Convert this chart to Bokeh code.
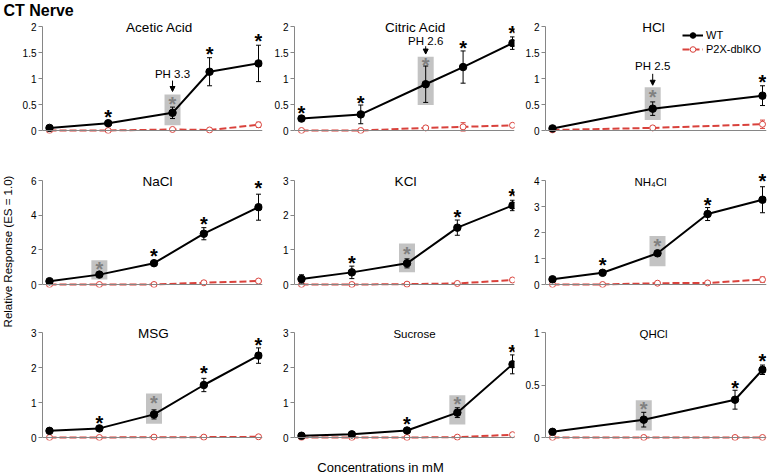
import math
from bokeh.plotting import figure
from bokeh.layouts import column, row
from bokeh.models import (FixedTicker, Label, Arrow, NormalHead, Legend, LegendItem, Range1d)
from bokeh.core.properties import value
from bokeh.embed import file_html
from bokeh.resources import INLINE

FONT = "Liberation Sans"
WT_C = "#000000"
KO_C = "#D9423C"
AX_C = "#868686"
BOX_C = "#C3C3C3"
GSTAR_C = "#808080"

# ---------------- data ----------------
acetic_conc = [1, 3, 10, 20, 50]
acetic_wt = [0.05, 0.14, 0.34, 1.13, 1.29]
acetic_wt_err = [0.02, 0.03, 0.11, 0.27, 0.35]
acetic_ko = [0.0, 0.0, 0.02, 0.01, 0.11]
acetic_ko_err = [0.01, 0.01, 0.02, 0.02, 0.05]
acetic_yticks = [0, 0.5, 1, 1.5, 2]
acetic_stars = [3, 10, 20, 50]
acetic_star_y = [0.33, 0.59, 1.54, 1.79]

citric_conc = [1, 3, 10, 20, 50]
citric_wt = [0.23, 0.31, 0.89, 1.22, 1.68]
citric_wt_err = [0.04, 0.18, 0.35, 0.31, 0.12]
citric_ko = [0.0, 0.0, 0.05, 0.07, 0.10]
citric_ko_err = [0.01, 0.01, 0.03, 0.08, 0.03]
citric_yticks = [0, 0.5, 1, 1.5, 2]
citric_stars = [1, 3, 10, 20, 50]
citric_star_y = [0.42, 0.60, 1.33, 1.67, 1.96]

hcl_conc = [1, 3, 10]
hcl_wt = [0.04, 0.42, 0.67]
hcl_wt_err = [0.02, 0.13, 0.19]
hcl_ko = [0.01, 0.05, 0.12]
hcl_ko_err = [0.01, 0.02, 0.08]
hcl_yticks = [0, 0.5, 1, 1.5, 2]
hcl_stars = [3, 10]
hcl_star_y = [0.72, 1.01]

nacl_conc = [10, 30, 100, 300, 1000]
nacl_wt = [0.19, 0.57, 1.23, 2.93, 4.46]
nacl_wt_err = [0.08, 0.10, 0.12, 0.35, 0.75]
nacl_ko = [0.0, 0.0, 0.0, 0.10, 0.20]
nacl_ko_err = [0.02, 0.02, 0.02, 0.10, 0.08]
nacl_yticks = [0, 2, 4, 6]
nacl_stars = [30, 100, 300, 1000]
nacl_star_y = [1.11, 1.88, 3.70, 5.80]

kcl_conc = [10, 30, 100, 300, 1000]
kcl_wt = [0.16, 0.35, 0.61, 1.64, 2.28]
kcl_wt_err = [0.12, 0.18, 0.13, 0.22, 0.15]
kcl_ko = [0.0, 0.0, 0.01, 0.03, 0.13]
kcl_ko_err = [0.03, 0.02, 0.02, 0.03, 0.05]
kcl_yticks = [0, 1, 2, 3]
kcl_stars = [30, 100, 300, 1000]
kcl_star_y = [0.75, 0.99, 2.06, 2.67]

nh4cl_conc = [10, 30, 100, 300, 1000]
nh4cl_wt = [0.20, 0.45, 1.20, 2.71, 3.26]
nh4cl_wt_err = [0.05, 0.09, 0.08, 0.25, 0.50]
nh4cl_ko = [0.0, 0.0, 0.05, 0.06, 0.19]
nh4cl_ko_err = [0.02, 0.02, 0.06, 0.04, 0.10]
nh4cl_yticks = [0, 1, 2, 3, 4]
nh4cl_stars = [30, 100, 300, 1000]
nh4cl_star_y = [0.89, 1.62, 3.23, 4.13]

msg_conc = [10, 30, 100, 300, 1000]
msg_wt = [0.19, 0.26, 0.66, 1.50, 2.34]
msg_wt_err = [0.03, 0.03, 0.13, 0.19, 0.22]
msg_ko = [0.0, 0.0, 0.01, 0.01, 0.02]
msg_ko_err = [0.01, 0.01, 0.02, 0.03, 0.03]
msg_yticks = [0, 1, 2, 3]
msg_stars = [30, 100, 300, 1000]
msg_star_y = [0.54, 1.09, 1.95, 2.77]

sucrose_conc = [10, 30, 100, 300, 1000]
sucrose_wt = [0.05, 0.09, 0.20, 0.71, 2.09]
sucrose_wt_err = [0.02, 0.03, 0.04, 0.14, 0.27]
sucrose_ko = [0.0, 0.0, 0.0, 0.01, 0.08]
sucrose_ko_err = [0.01, 0.01, 0.01, 0.03, 0.05]
sucrose_yticks = [0, 1, 2, 3]
sucrose_stars = [100, 300, 1000]
sucrose_star_y = [0.49, 1.06, 2.55]

qhcl_conc = [0.1, 1, 10, 20]
qhcl_wt = [0.054, 0.17, 0.36, 0.645]
qhcl_wt_err = [0.01, 0.07, 0.09, 0.045]
qhcl_ko = [0.0, 0.0, 0.0, 0.0]
qhcl_ko_err = [0.005, 0.005, 0.005, 0.005]
qhcl_yticks = [0, 0.5, 1]
qhcl_stars = [1, 10, 20]
qhcl_star_y = [0.31, 0.51, 0.77]

panel_titles = ["Acetic Acid", "Citric Acid", "HCl", "NaCl", "KCl", "NH\u2084Cl", "MSG", "Sucrose", "QHCl"]
panel_title_sizes = ["13.5px", "13.5px", "13.5px", "13.5px", "13.5px", "11.5px", "13.5px", "11.5px", "11.5px"]
panel_title_dx = [117, 121, 108, 115, 111, 105, 111, 120, 108]
# highlighted (gray box) concentration per panel and the box extent in data units
gray_marked = [10, 10, 3, 30, 100, 100, 100, 300, 1]
gray_box_lo = [0.10, 0.49, 0.20, 0.29, 0.35, 0.70, 0.39, 0.37, 0.067]
gray_box_hi = [0.69, 1.42, 0.83, 1.40, 1.18, 1.87, 1.26, 1.21, 0.355]
# pH notes: panel index, concentration, label, arrow top, arrow tip, text centre (data units)
ph_panel = [0, 1, 2]
ph_conc = [10, 10, 3]
ph_text = ["PH 3.3", "PH 2.6", "PH 2.5"]
ph_arrow_top = [0.96, 1.62, 1.09]
ph_arrow_tip = [0.75, 1.47, 0.87]
ph_text_y = [1.08, 1.73, 1.25]
legend_labels = ["WT", "P2X-dblKO"]
main_title = "CT Nerve"
y_title = "Relative Response (ES = 1.0)"
x_title = "Concentrations in mM"

series = [
    (acetic_conc, acetic_wt, acetic_wt_err, acetic_ko, acetic_ko_err, acetic_yticks, acetic_stars, acetic_star_y),
    (citric_conc, citric_wt, citric_wt_err, citric_ko, citric_ko_err, citric_yticks, citric_stars, citric_star_y),
    (hcl_conc, hcl_wt, hcl_wt_err, hcl_ko, hcl_ko_err, hcl_yticks, hcl_stars, hcl_star_y),
    (nacl_conc, nacl_wt, nacl_wt_err, nacl_ko, nacl_ko_err, nacl_yticks, nacl_stars, nacl_star_y),
    (kcl_conc, kcl_wt, kcl_wt_err, kcl_ko, kcl_ko_err, kcl_yticks, kcl_stars, kcl_star_y),
    (nh4cl_conc, nh4cl_wt, nh4cl_wt_err, nh4cl_ko, nh4cl_ko_err, nh4cl_yticks, nh4cl_stars, nh4cl_star_y),
    (msg_conc, msg_wt, msg_wt_err, msg_ko, msg_ko_err, msg_yticks, msg_stars, msg_star_y),
    (sucrose_conc, sucrose_wt, sucrose_wt_err, sucrose_ko, sucrose_ko_err, sucrose_yticks, sucrose_stars, sucrose_star_y),
    (qhcl_conc, qhcl_wt, qhcl_wt_err, qhcl_ko, qhcl_ko_err, qhcl_yticks, qhcl_stars, qhcl_star_y),
]

# ---------------- layout geometry (page px) ----------------
PAGE_W, PAGE_H = 774, 475
TOP_H = 18          # strip with the main title
BOT_H = 16          # strip with the x title
LEFT_W = 16         # strip with the y title
COL_BL = [26, 24, 23]
COL_FW = [220, 220, 221]
COL_BR = [8, 8, 8]
COL_PAD = [(7, 4), (7, 2), (7, 4)]
ROW_FT = [18, 162, 316]
ROW_YT = [26, 180, 332]
ROW_Y0 = [130, 284, 437]
ROW_FIG_BOT = [162, 316, 459]
ROW_STANDOFF = [8, 8, 7]
BELOW_ZERO = 3
STAR_CORR = 4.0    # px: asterisk visual centre above the text middle


def strip(width, height, x0, x1, y0, y1):
    f = figure(width=width, height=height, x_range=Range1d(x0, x1), y_range=Range1d(y0, y1),
               x_axis_location=None, y_axis_location=None, title=None,
               output_backend="svg", toolbar_location=None,
               min_border_left=0, min_border_right=0, min_border_top=0, min_border_bottom=0)
    f.grid.visible = False
    f.outline_line_color = None
    f.background_fill_color = "white"
    f.border_fill_color = "white"
    return f


def make_panel(i):
    conc, wt, wt_err, ko, ko_err, yticks, stars, star_y = series[i]
    r, c = divmod(i, 3)
    fw, bl, br = COL_FW[c], COL_BL[c], COL_BR[c]
    pad_l, pad_r = COL_PAD[c]
    ft, yT, y0 = ROW_FT[r], ROW_YT[r], ROW_Y0[r]
    fb = y0 + BELOW_ZERO
    fh = fb - ft
    bb = ROW_FIG_BOT[r] - fb
    ytop = yticks[-1]
    ppu = (y0 - yT) / ytop
    first, last = conc[0], conc[-1]
    ppd = (fw - pad_l - pad_r) / math.log10(last / first)
    x0 = first / 10 ** (pad_l / ppd)
    x1 = last * 10 ** (pad_r / ppd)
    yb = -(fb - y0) / ppu
    yt = ytop + (yT - ft) / ppu

    p = figure(width=bl + fw + br, height=fh + bb, title=None,
               x_axis_type="log", x_range=Range1d(x0, x1), y_range=Range1d(yb, yt),
               output_backend="svg", toolbar_location=None,
               min_border_left=bl, min_border_right=br, min_border_top=0,
               min_border_bottom=bb)
    p.grid.visible = False
    p.outline_line_color = None
    p.background_fill_color = "white"
    p.border_fill_color = "white"

    ya = p.yaxis[0]
    ya.ticker = FixedTicker(ticks=yticks, minor_ticks=[])
    ya.major_label_overrides = {t: "%g" % t for t in yticks}
    ya.bounds = (0, ytop)
    ya.axis_line_color = AX_C
    ya.major_tick_line_color = AX_C
    ya.major_tick_out = 4
    ya.major_tick_in = 0
    ya.minor_tick_line_color = None
    ya.major_label_standoff = 2
    ya.major_label_text_font = FONT
    ya.major_label_text_font_size = "10px"
    ya.major_label_text_color = "#000000"

    xa = p.xaxis[0]
    xa.ticker = FixedTicker(ticks=conc, minor_ticks=[])
    xa.major_label_overrides = {v: "%g" % v for v in conc}
    xa.fixed_location = 0
    xa.axis_line_color = AX_C
    xa.major_tick_line_color = None
    xa.minor_tick_line_color = None
    xa.major_tick_out = 0
    xa.major_tick_in = 0
    xa.major_label_standoff = ROW_STANDOFF[r]
    xa.major_label_text_font = FONT
    xa.major_label_text_font_size = "10px"
    xa.major_label_text_color = "#000000"

    # gray box around the highlighted point
    g = gray_marked[i]
    lo, hi = gray_box_lo[i], gray_box_hi[i]
    p.rect(x=[g], y=[(lo + hi) / 2], width=16, width_units="screen",
           height=[hi - lo], fill_color=BOX_C, line_color=None)

    # KO series
    ko_lo = [a - b for a, b in zip(ko, ko_err)]
    ko_hi = [a + b for a, b in zip(ko, ko_err)]
    p.segment(x0=conc, y0=ko_lo, x1=conc, y1=ko_hi, line_color=KO_C, line_width=1)
    p.scatter(x=conc + conc, y=ko_lo + ko_hi, marker="dash", size=5, line_color=KO_C, line_width=1)
    ko_line = p.line(conc, ko, line_color=KO_C, line_width=2, line_dash="7 3")
    ko_pts = p.scatter(conc, ko, marker="circle", size=6, fill_color="white",
                       line_color=KO_C, line_width=1)

    # WT series
    wt_lo = [a - b for a, b in zip(wt, wt_err)]
    wt_hi = [a + b for a, b in zip(wt, wt_err)]
    p.segment(x0=conc, y0=wt_lo, x1=conc, y1=wt_hi, line_color=WT_C, line_width=1)
    p.scatter(x=conc + conc, y=wt_lo + wt_hi, marker="dash", size=5, line_color=WT_C, line_width=1)
    wt_line = p.line(conc, wt, line_color=WT_C, line_width=2)
    wt_pts = p.scatter(conc, wt, marker="circle", size=7.5, fill_color=WT_C, line_color=WT_C)

    # significance stars
    sy = [v - STAR_CORR / ppu for v in star_y]
    scol = [GSTAR_C if s == g else "#000000" for s in stars]
    p.text(x=stars, y=sy, text=["*"] * len(stars), text_color=scol, text_font=value(FONT),
           text_font_size="20px", text_font_style="bold",
           text_align="center", text_baseline="middle")

    # pH note with arrow
    if i in ph_panel:
        k = ph_panel.index(i)
        phx = ph_conc[k]
        p.add_layout(Arrow(end=NormalHead(size=5, fill_color="black", line_color="black", line_width=1),
                           x_start=phx, y_start=ph_arrow_top[k], x_end=phx, y_end=ph_arrow_tip[k],
                           line_color="black", line_width=1))
        p.text(x=[phx], y=[ph_text_y[k]], text=[ph_text[k]], text_font=value(FONT),
               text_font_size="11.5px", text_align="center", text_baseline="middle",
               text_color="#000000")

    # panel title (inside the frame, at the top tick level)
    p.add_layout(Label(x=panel_title_dx[i], x_units="screen", y=ytop - 1 / ppu, y_units="data",
                       text=panel_titles[i], text_font=FONT, text_font_size=panel_title_sizes[i],
                       text_align="center", text_baseline="middle", text_color="#000000"))

    if i == 2:
        leg = Legend(items=[LegendItem(label=legend_labels[0], renderers=[wt_line, wt_pts]),
                            LegendItem(label=legend_labels[1], renderers=[ko_line, ko_pts])],
                     location=(137, fh - 10 - 28), orientation="vertical",
                     glyph_width=21, glyph_height=14, label_height=14, label_standoff=3,
                     spacing=0, padding=0, margin=0, border_line_color=None,
                     background_fill_alpha=0, label_text_font=FONT,
                     label_text_font_size="11px", label_text_color="#000000")
        p.add_layout(leg)
    return p


figs = [make_panel(i) for i in range(9)]

# strips for the titles (coordinates = page pixels)
top = strip(PAGE_W, TOP_H, 0, PAGE_W, TOP_H, 0)
top.text(x=[3], y=[10], text=[main_title], text_font=value(FONT), text_font_size="16px",
         text_font_style="bold", text_align="left", text_baseline="middle", text_color="#000000")

grid_h = ROW_FIG_BOT[-1] - TOP_H
left = strip(LEFT_W, grid_h, 0, LEFT_W, ROW_FIG_BOT[-1], TOP_H)
left.text(x=[7.5], y=[251], text=[y_title], angle=math.pi / 2, text_font=value(FONT),
          text_font_size="11.5px", text_align="center", text_baseline="middle", text_color="#000000")

bottom = strip(PAGE_W, BOT_H, 0, PAGE_W, PAGE_H, PAGE_H - BOT_H)
bottom.text(x=[380], y=[467], text=[x_title], text_font=value(FONT), text_font_size="13px",
            text_align="center", text_baseline="middle", text_color="#000000")

grid = column(row(*figs[0:3]), row(*figs[3:6]), row(*figs[6:9]))
layout = column(top, row(left, grid), bottom)

open("out.html", "w").write(file_html(layout, INLINE))
